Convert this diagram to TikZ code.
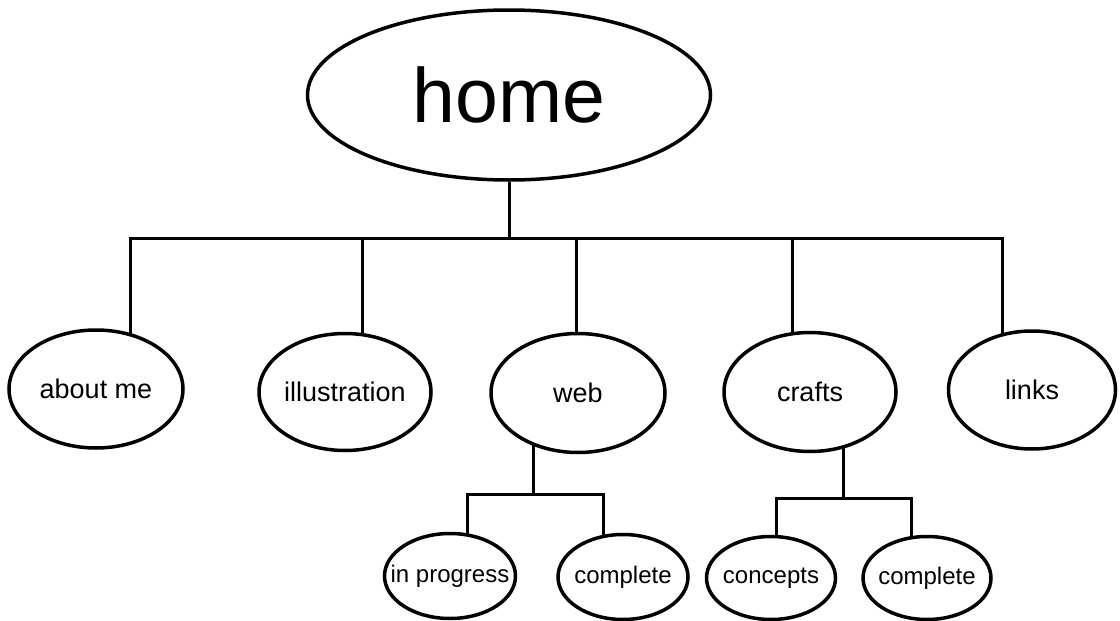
\documentclass[tikz,border=0pt]{standalone}
\usepackage{fontspec}
\setmainfont{Liberation Sans}
\usetikzlibrary{shapes.geometric, backgrounds}

\begin{document}
\begin{tikzpicture}[x=1pt, y=-1pt,
    page/.style={draw, ellipse, line width=3.5pt, fill=white, inner sep=0pt,
        font=\fontsize{27}{30}\selectfont},
    subpage/.style={page, font=\fontsize{24}{27}\selectfont},
    link/.style={line width=3pt}]
    \useasboundingbox (0,0) rectangle (1120,621);

    % Home page
    \node[page, minimum width=403pt, minimum height=170pt, font=\fontsize{77}{80}\selectfont] (home) at (509,95) {home};

    % Sections
    \node[page, minimum width=174pt, minimum height=118pt] (about) at (96,389) {about me};
    \node[page, minimum width=172pt, minimum height=117pt] (illus) at (345,392) {\makebox[0pt]{illustration}};
    \node[page, minimum width=174pt, minimum height=119pt] (web) at (578,393) {web};
    \node[page, minimum width=172pt, minimum height=119pt] (crafts) at (810,392) {crafts};
    \node[page, minimum width=167pt, minimum height=118pt] (links) at (1032,390) {links};

    % Sub pages (text boxes kept narrow so the ellipse size is fixed)
    \node[subpage, minimum width=131pt, minimum height=85pt] (inprog) at (450,576) {\makebox[0pt]{in progress}};
    \node[subpage, minimum width=130pt, minimum height=85pt] (webdone) at (623,577) {\makebox[0pt]{complete}};
    \node[subpage, minimum width=129pt, minimum height=83pt] (concepts) at (771,578) {\makebox[0pt]{concepts}};
    \node[subpage, minimum width=128pt, minimum height=83pt] (craftsdone) at (927,578) {\makebox[0pt]{complete}};

    % Connectors
    \begin{scope}[on background layer]
        \coordinate (aboutdrop) at (130,238);
        \coordinate (illusdrop) at (362,238);
        \coordinate (webdrop) at (576,238);
        \coordinate (craftsdrop) at (792,238);
        \coordinate (linksdrop) at (1002,238);
        \coordinate (webfork) at (533,494);
        \coordinate (craftsfork) at (843,498);

        \draw[link] (home.south) -- (home.south |- aboutdrop);
        \draw[link] (aboutdrop |- about) -- (aboutdrop) -- (linksdrop) -- (linksdrop |- links);
        \draw[link] (illusdrop) -- (illusdrop |- illus);
        \draw[link] (webdrop) -- (webdrop |- web);
        \draw[link] (craftsdrop) -- (craftsdrop |- crafts);

        \draw[link] (webfork |- web) -- (webfork);
        \draw[link] (467,0 |- inprog) -- (467,0 |- webfork) -- (603,0 |- webfork) -- (603,0 |- webdone);
        \draw[link] (craftsfork |- crafts) -- (craftsfork);
        \draw[link] (776,0 |- concepts) -- (776,0 |- craftsfork) -- (911,0 |- craftsfork) -- (911,0 |- craftsdone);
    \end{scope}
\end{tikzpicture}
\end{document}
